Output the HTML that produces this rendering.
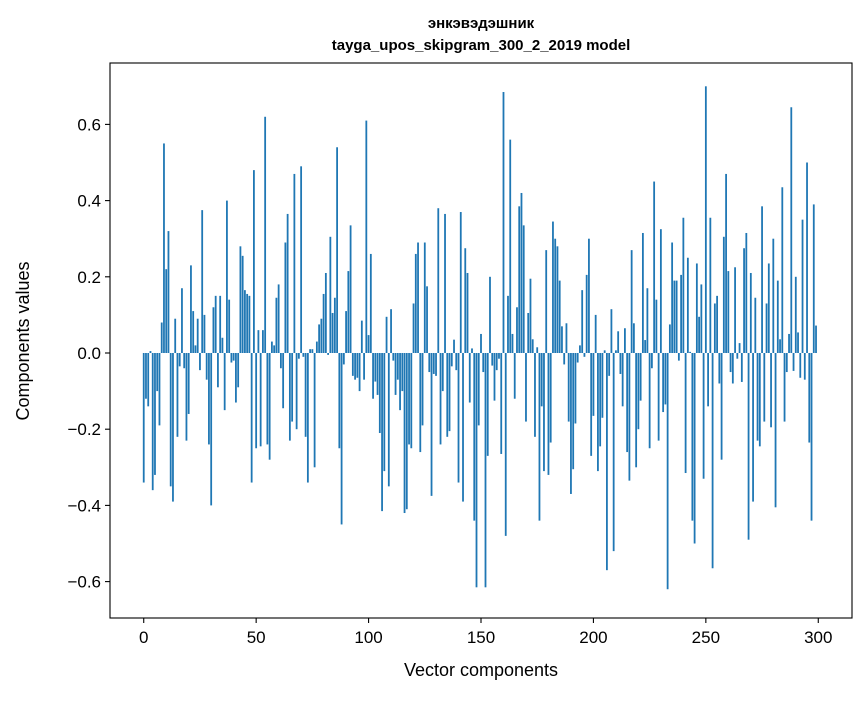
<!DOCTYPE html>
<html><head><meta charset="utf-8"><style>
body{margin:0;background:#fff;}
svg text{font-family:"Liberation Sans","DejaVu Sans",sans-serif;fill:#000;}
</style></head><body>
<svg id="chart" width="867" height="696" xmlns="http://www.w3.org/2000/svg">
<rect x="0" y="0" width="867" height="696" fill="#fff"/>
<text x="481" y="28" font-size="15" font-weight="bold" text-anchor="middle">энкэвэдэшник</text>
<text x="481" y="50" font-size="15" font-weight="bold" text-anchor="middle">tayga_upos_skipgram_300_2_2019 model</text>
<g id="bars"></g>
<g id="axes"></g>
<text x="481" y="676" font-size="18" text-anchor="middle">Vector components</text>
<text x="0" y="0" font-size="18" text-anchor="middle" transform="translate(29,341) rotate(-90)">Components values</text>
</svg>
<script>
const values = [
-0.34,-0.12,-0.14,0.005,-0.36,-0.32,-0.10,-0.19,0.08,0.55,
0.22,0.32,-0.35,-0.39,0.09,-0.22,-0.035,0.17,-0.04,-0.23,
-0.16,0.23,0.11,0.02,0.09,-0.045,0.375,0.10,-0.07,-0.24,
-0.40,0.12,0.15,-0.09,0.15,0.04,-0.15,0.40,0.14,-0.025,
-0.02,-0.13,-0.09,0.28,0.255,0.165,0.155,0.15,-0.34,0.48,
-0.25,0.06,-0.245,0.06,0.62,-0.24,-0.28,0.03,0.02,0.145,
0.18,-0.04,-0.145,0.29,0.365,-0.23,-0.18,0.47,-0.20,-0.015,
0.49,-0.01,-0.22,-0.34,0.01,0.01,-0.30,0.03,0.075,0.09,
0.155,0.21,-0.005,0.305,0.105,0.145,0.54,-0.25,-0.45,-0.03,
0.11,0.215,0.335,-0.06,-0.07,-0.065,-0.10,0.085,-0.07,0.61,
0.047,0.26,-0.12,-0.075,-0.11,-0.21,-0.415,-0.31,0.095,-0.35,
0.115,-0.02,-0.11,-0.07,-0.15,-0.10,-0.42,-0.41,-0.24,-0.25,
0.13,0.26,0.29,-0.26,-0.19,0.29,0.175,-0.05,-0.375,-0.055,
-0.06,0.38,-0.24,-0.10,0.365,-0.22,-0.205,-0.035,0.035,-0.045,
-0.34,0.37,-0.39,0.275,0.21,-0.13,0.012,-0.44,-0.615,-0.19,
0.05,-0.05,-0.615,-0.27,0.20,-0.033,-0.125,-0.045,-0.015,-0.265,
0.685,-0.48,0.15,0.56,0.05,-0.12,0.12,0.385,0.42,0.335,
-0.18,0.105,0.195,0.036,-0.22,0.015,-0.44,-0.14,-0.31,0.27,
-0.32,-0.235,0.345,0.30,0.28,0.19,0.07,-0.03,0.078,-0.18,
-0.37,-0.305,-0.185,-0.025,0.02,0.165,-0.01,0.205,0.30,-0.27,
-0.165,0.10,-0.31,-0.245,-0.17,0.007,-0.57,-0.06,0.115,-0.52,
0.007,0.057,-0.055,-0.14,0.065,-0.26,-0.335,0.27,0.078,-0.30,
-0.20,-0.125,0.315,0.034,0.17,-0.25,-0.04,0.45,0.14,-0.23,
0.325,-0.155,-0.135,-0.62,0.075,0.29,0.19,0.19,-0.02,0.205,
0.355,-0.315,0.25,0.003,-0.44,-0.50,0.235,0.095,0.18,-0.33,
0.70,-0.14,0.355,-0.565,0.13,0.15,-0.08,-0.28,0.305,0.47,
0.215,-0.05,-0.08,0.225,-0.015,0.026,-0.076,0.275,0.315,-0.49,
0.21,-0.39,0.145,-0.23,-0.245,0.385,-0.18,0.13,0.235,-0.195,
0.30,-0.405,0.19,0.036,0.435,-0.18,-0.05,0.05,0.645,-0.047,
0.20,0.054,-0.065,0.35,-0.07,0.50,-0.235,-0.44,0.39,0.072
];
const xTicks = [0,50,100,150,200,250,300];
const yTicks = [-0.6,-0.4,-0.2,0.0,0.2,0.4,0.6];

const NS="http://www.w3.org/2000/svg";
const L=110,R=852,T=63,B=618;
const xMin=-15,xMax=315;
const y0=353,yScale=381;
function xs(v){return L+(v-xMin)/(xMax-xMin)*(R-L);}
function ys(v){return y0-v*yScale;}
function mk(tag,attrs,parent){const e=document.createElementNS(NS,tag);for(const k in attrs)e.setAttribute(k,attrs[k]);parent.appendChild(e);return e;}

const bars=document.getElementById('bars');
const bw=(xs(0.8)-xs(0));
values.forEach((v,i)=>{
  const y=Math.min(ys(v),ys(0));
  const h=Math.abs(ys(v)-ys(0));
  const r=mk('rect',{x:xs(i)-bw/2,y:y,width:bw,height:Math.max(h,0.3),fill:'#1f77b4'},bars);
  
  
});

const axes=document.getElementById('axes');
const frame=mk('rect',{x:L,y:T,width:R-L,height:B-T,fill:'none',stroke:'#000','stroke-width':1.1},axes);


xTicks.forEach(t=>{
  const x=xs(t);
  const tk=mk('line',{x1:x,x2:x,y1:B,y2:B+5,stroke:'#000','stroke-width':1.1},axes);
  
  
  const tx=mk('text',{x:x,y:B+25,'font-size':17,'text-anchor':'middle'},axes);
  tx.textContent=String(t);
  
  
});
yTicks.forEach(t=>{
  const y=ys(t);
  const tk=mk('line',{x1:L-5,x2:L,y1:y,y2:y,stroke:'#000','stroke-width':1.1},axes);
  
  
  const tx=mk('text',{x:L-9,y:y+6,'font-size':17,'text-anchor':'end'},axes);
  tx.textContent=(t<0?'\u2212':'')+Math.abs(t).toFixed(1);
  
  
});
</script>
</body></html>
